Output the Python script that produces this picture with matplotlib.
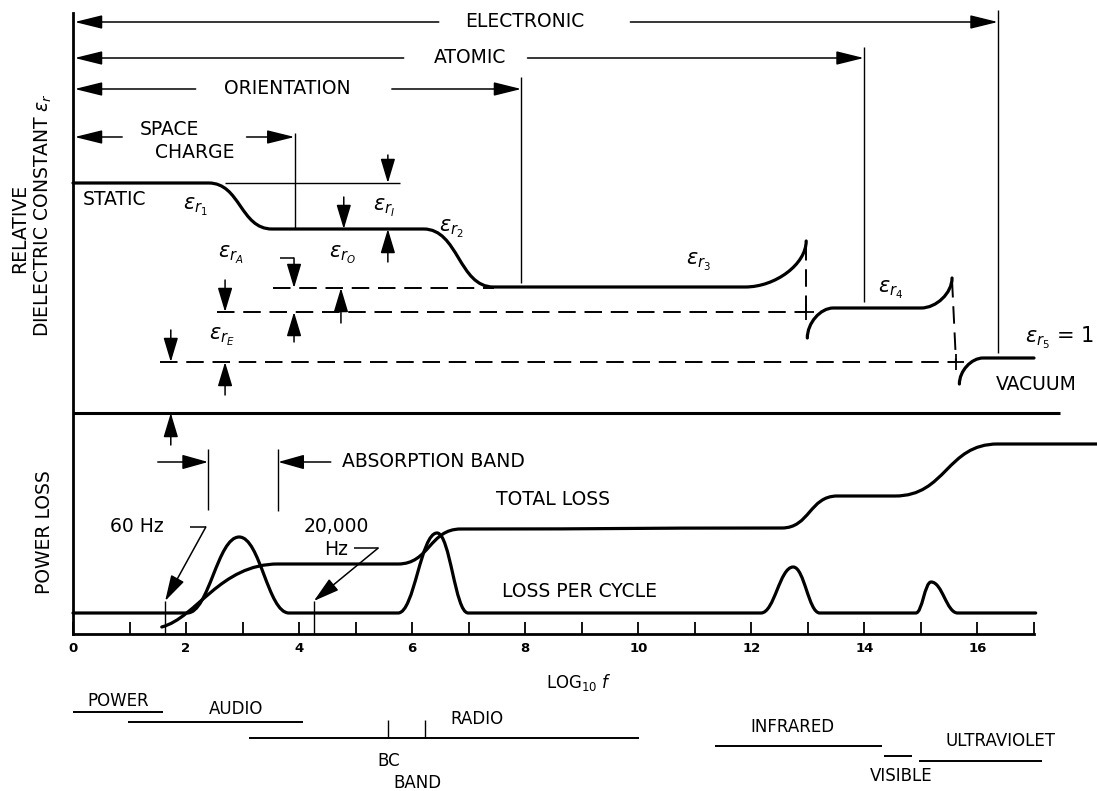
import matplotlib
matplotlib.use('Agg')
import matplotlib.pyplot as plt
from matplotlib.path import Path
from matplotlib.patches import PathPatch

plt.rcParams['font.family'] = 'DejaVu Sans'
plt.rcParams['mathtext.fontset'] = 'dejavusans'

# x = log10 f ; y = height in the drawing (rows, 0 at the top)
xticks_all = list(range(0, 18))
xtick_labels = [str(v) if v % 2 == 0 and v <= 16 else '' for v in xticks_all]

# polarisation mechanisms and the log10 f where each dies out
mech_names = ['ELECTRONIC', 'ATOMIC', 'ORIENTATION', 'SPACE CHARGE']
mech_limit = [16.36, 13.99, 7.93, 3.92]

# relative dielectric constant: anchor points (log f, level, tangent)
eps_low = [(0.0, 183, 'h'), (2.40, 183, 'h'), (3.52, 229, 'h'), (6.20, 229, 'h'),
           (7.44, 287, 'h'), (11.89, 287, 'h'), (12.97, 241, 'v')]
eps_atomic = [(12.99, 338, 'v'), (13.45, 308, 'h'), (15.00, 308, 'h'), (15.55, 278, 'v')]
eps_vacuum = [(15.68, 384, 'v'), (16.10, 358, 'h'), (17.0, 358, 'h')]

# reference levels
lev_static, lev_0, lev_3, lev_A, lev_E = 183, 229, 288, 312, 362

# power loss curves
total_loss = [(1.57, 627, 'd'), (3.63, 564, 'h'), (5.75, 564, 'h'), (6.86, 529, 'h'),
              (12.54, 528, 'h'), (13.52, 496, 'h'), (14.54, 496, 'h'), (16.36, 444, 'h'),
              (18.2, 444, 'h')]
loss_cycle = [(0.0, 613, 'h'), (2.02, 613, 'h'), (2.94, 537, 'h'), (3.82, 613, 'h'),
              (5.75, 613, 'h'), (6.44, 533, 'h'), (6.99, 613, 'h'), (12.17, 613, 'h'),
              (12.74, 567, 'h'), (13.21, 613, 'h'), (14.91, 613, 'h'), (15.18, 582, 'h'),
              (15.65, 613, 'h'), (17.03, 613, 'h')]

absorption = [2.39, 3.63]
f_60hz = 1.63
f_20khz = 4.26

# frequency bands
bands = ['POWER', 'AUDIO', 'RADIO', 'INFRARED', 'VISIBLE', 'ULTRAVIOLET']
band_lo = [0.0, 0.97, 3.11, 11.36, 14.35, 14.97]
band_hi = [1.59, 4.07, 10.01, 14.31, 14.84, 17.14]
bc_band = [5.57, 6.22]


fig = plt.figure(figsize=(10.97, 7.91), dpi=100)
ax = fig.add_axes([73 / 1097, 157 / 791, 961 / 1097, 621 / 791])
ax.set_xlim(0, 17)
ax.set_ylim(634, 13)
ax.spines['top'].set_visible(False)
ax.spines['right'].set_visible(False)
ax.spines['left'].set_linewidth(2.0)
ax.spines['bottom'].set_linewidth(2.0)
ax.set_xticks(xticks_all)
ax.set_xticklabels(xtick_labels, fontweight='bold', fontsize=9.5)
ax.set_yticks([])
ax.tick_params(axis='x', direction='in', length=9, width=1.3, pad=6)

K = dict(color='k', clip_on=False, solid_capstyle='butt')


def smooth(pts, k=0.5, lw=2.3):
    verts = [pts[0][:2]]
    codes = [Path.MOVETO]
    for (x0, y0, m0), (x1, y1, m1) in zip(pts[:-1], pts[1:]):
        dx, dy = x1 - x0, y1 - y0
        if m0 == 'h':
            c1 = (x0 + k * dx, y0)
        elif m0 == 'v':
            c1 = (x0, y0 + k * dy)
        else:
            c1 = (x0 + 0.3 * dx, y0 + 0.15 * dy)
        if m1 == 'h':
            c2 = (x1 - k * dx, y1)
        else:
            c2 = (x1, y1 - k * dy)
        verts += [c1, c2, (x1, y1)]
        codes += [Path.CURVE4] * 3
    ax.add_patch(PathPatch(Path(verts, codes), fill=False, lw=lw, ec='k',
                           clip_on=False, capstyle='round', joinstyle='round'))


def arrow(x0, y0, x1, y1, hl=1.6, hw=0.45, lw=1.1):
    ax.annotate('', xy=(x1, y1), xytext=(x0, y0), annotation_clip=False,
                arrowprops=dict(arrowstyle=f'-|>,head_length={hl},head_width={hw}',
                                mutation_scale=10, lw=lw, color='k',
                                shrinkA=0, shrinkB=0))


FS = 13.5

# ---- mechanism ranges across the top ----
mech_rows = [22, 58, 89, 137]
mech_gap = [(6.47, 9.86), (5.85, 8.04), (2.17, 5.64), (0.87, 3.07)]
mech_vtop = [10, 47, 77, 133]
mech_vbot = [353, 302, 283, 229]
for lim, row, (g0, g1), vt, vb in zip(mech_limit, mech_rows, mech_gap, mech_vtop, mech_vbot):
    arrow(g0, row, 0.03, row, hl=1.7, hw=0.42)
    arrow(g1, row, lim, row, hl=1.7, hw=0.42)
    ax.plot([lim, lim], [vt, vb], lw=1.0, **K)

ax.text(8.00, 22, mech_names[0], fontsize=FS, ha='center', va='center')
ax.text(7.02, 58, mech_names[1], fontsize=FS, ha='center', va='center')
ax.text(3.79, 89, mech_names[2], fontsize=FS, ha='center', va='center')
ax.text(1.70, 130, mech_names[3].split()[0], fontsize=FS, ha='center', va='center')
ax.text(2.16, 153, mech_names[3].split()[1], fontsize=FS, ha='center', va='center')

# ---- dielectric constant curve ----
smooth(eps_low)
smooth(eps_atomic)
smooth(eps_vacuum)

ax.plot([2.69, 5.78], [lev_static, lev_static], lw=1.0, **K)

dash = dict(color='k', lw=1.4, clip_on=False, linestyle=(0, (9, 4.5)))
ax.plot([3.54, 7.44], [lev_3, lev_3], **dash)
ax.plot([2.55, eps_atomic[0][0] - 0.02], [lev_A, lev_A], **dash)
ax.plot([1.54, 15.62], [lev_E, lev_E], **dash)
ax.plot([12.97, 12.97], [243, lev_A], **dash)
ax.plot([15.55, 15.62], [280, lev_E], **dash)
ax.plot([12.97, 15.62], [lev_A, lev_E], '+', ms=11, mew=1.3, color='k', clip_on=False)

# dimension arrows (x, tail, tip)
dims = [(5.57, 155, lev_static), (4.79, 197, lev_0), (5.57, 262, lev_0),
        (2.69, 280, lev_A), (3.91, 258, lev_3), (3.91, 342, lev_A),
        (4.74, 323, lev_3), (1.73, 330, lev_E), (2.69, 395, lev_E), (1.73, 445, 413)]
for x, y0, y1 in dims:
    arrow(x, y0, x, y1, hl=1.5, hw=0.45)
ax.plot([3.66, 3.91], [258, 258], lw=1.1, **K)

ax.text(0.18, 200, 'STATIC', fontsize=FS, ha='left', va='center')
ax.text(16.33, 385, 'VACUUM', fontsize=FS, ha='left', va='center')
EF = 15
ax.text(2.16, 207, r'$\epsilon_{r_1}$', fontsize=EF, ha='center', va='center')
ax.text(5.50, 208, r'$\epsilon_{r_I}$', fontsize=EF, ha='center', va='center')
ax.text(6.69, 229, r'$\epsilon_{r_2}$', fontsize=EF, ha='center', va='center')
ax.text(2.80, 255, r'$\epsilon_{r_A}$', fontsize=EF, ha='center', va='center')
ax.text(4.76, 255, r'$\epsilon_{r_O}$', fontsize=EF, ha='center', va='center')
ax.text(2.64, 337, r'$\epsilon_{r_E}$', fontsize=EF, ha='center', va='center')
ax.text(11.07, 262, r'$\epsilon_{r_3}$', fontsize=EF, ha='center', va='center')
ax.text(14.47, 290, r'$\epsilon_{r_4}$', fontsize=EF, ha='center', va='center')
ax.text(16.84, 338, r'$\epsilon_{r_5}$ = 1', fontsize=EF, ha='left', va='center')

# separator between the two panels
ax.plot([0, 17.46], [413, 413], lw=2.2, **K)

# ---- power loss ----
smooth(total_loss)
smooth(loss_cycle, k=0.42)

arrow(1.50, 462, absorption[0], 462, hl=1.6, hw=0.45)
arrow(4.56, 462, absorption[1], 462, hl=1.6, hw=0.45)
ax.plot([absorption[0]] * 2, [449, 510], lw=1.0, **K)
ax.plot([absorption[1]] * 2, [449, 511], lw=1.0, **K)
ax.text(4.76, 462, 'ABSORPTION BAND', fontsize=FS, ha='left', va='center')

ax.text(1.13, 527, '60 Hz', fontsize=FS, ha='center', va='center')
ax.plot([2.07, 2.35], [527, 527], lw=1.1, **K)
arrow(2.35, 527, f_60hz, 601, hl=1.6, hw=0.45)
ax.plot([f_60hz] * 2, [601, 634], lw=1.0, **K)

ax.text(4.65, 538, '20,000\nHz', fontsize=FS, ha='center', va='center', linespacing=1.25)
ax.plot([4.97, 5.40], [548, 548], lw=1.1, **K)
arrow(5.40, 548, f_20khz, 601, hl=1.6, hw=0.45)
ax.plot([f_20khz] * 2, [601, 634], lw=1.0, **K)

ax.text(7.48, 500, 'TOTAL LOSS', fontsize=FS, ha='left', va='center')
ax.text(7.59, 592, 'LOSS PER CYCLE', fontsize=FS, ha='left', va='center')

# axis titles
ax.text(-0.94, 228, 'RELATIVE', fontsize=FS, rotation=90, ha='center', va='center')
ax.text(-0.53, 215, r'DIELECTRIC CONSTANT $\epsilon_r$', fontsize=FS, rotation=90,
        ha='center', va='center')
ax.text(-0.51, 532, 'POWER LOSS', fontsize=FS, rotation=90, ha='center', va='center')
ax.text(8.95, 683, r'LOG$_{10}$ $f$', fontsize=12, ha='center', va='center')

# ---- frequency bands ----
band_rows = [712, 722, 738, 746, 756, 761]
label_pos = [(0.80, 701), (2.88, 709), (7.15, 719), (12.72, 727), (14.65, 776), (16.40, 741)]
for name, lo, hi, row, (lx, ly) in zip(bands, band_lo, band_hi, band_rows, label_pos):
    ax.plot([lo, hi], [row, row], lw=1.4, **K)
    ax.text(lx, ly, name, fontsize=12, ha='center', va='center')
for x in bc_band:
    ax.plot([x, x], [720, 738], lw=1.0, **K)
ax.text(5.59, 761, 'BC', fontsize=12, ha='center', va='center')
ax.text(6.09, 783, 'BAND', fontsize=12, ha='center', va='center')

fig.savefig('out.png', dpi=100)
